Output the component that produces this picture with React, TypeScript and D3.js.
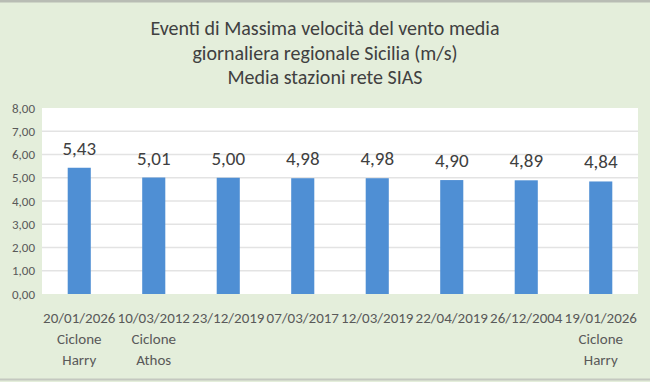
import React from "react";
import * as d3 from "d3";

const titleLines = [
  "Eventi di Massima velocità del vento media",
  "giornaliera regionale Sicilia (m/s)",
  "Media stazioni rete SIAS",
];
const categories = [
  ["20/01/2026", "Ciclone", "Harry"],
  ["10/03/2012", "Ciclone", "Athos"],
  ["23/12/2019"],
  ["07/03/2017"],
  ["12/03/2019"],
  ["22/04/2019"],
  ["26/12/2004"],
  ["19/01/2026", "Ciclone", "Harry"],
];
const values = [5.43, 5.01, 5.0, 4.98, 4.98, 4.9, 4.89, 4.84];
const yTicks = [0, 1, 2, 3, 4, 5, 6, 7, 8];

const W = 650;
const H = 382;
const FONT = "Carlito, Lato, 'Open Sans', sans-serif";
const fmt = (v: number) => v.toFixed(2).replace(".", ",");

export default function App() {
  const plot = { left: 42, right: 638, top: 108, bottom: 294 };
  const x = d3
    .scaleBand<number>()
    .domain(d3.range(categories.length))
    .range([plot.left, plot.right])
    .paddingInner(0.69)
    .paddingOuter(0.345);
  const y = d3.scaleLinear().domain([0, 8]).range([plot.bottom, plot.top]);

  return (
    <svg
      width={W}
      height={H}
      style={{ position: "absolute", left: 0, top: 0 }}
      fontFamily={FONT}
    >
      <rect x={0} y={0} width={W} height={H} fill="#e4eedb" />
      <line x1={0} x2={W} y1={1} y2={1} stroke="#b8bcb4" strokeWidth={3} />
      <line x1={0} x2={W} y1={379.5} y2={379.5} stroke="#c4c8c0" strokeWidth={2} />
      {titleLines.map((t, i) => (
        <text
          key={i}
          x={W / 2}
          y={35 + i * 24.5}
          textAnchor="middle"
          fontSize={20}
          fill="#404040"
        >
          {t}
        </text>
      ))}
      <rect
        x={plot.left}
        y={plot.top}
        width={plot.right - plot.left}
        height={plot.bottom - plot.top}
        fill="#ffffff"
      />
      {yTicks.map((t) => (
        <g key={t}>
          {t > 0 && t < 8 && (
            <line
              x1={plot.left}
              x2={plot.right}
              y1={y(t)}
              y2={y(t)}
              stroke="#e3e3e3"
              strokeWidth={1.5}
            />
          )}
          <text
            x={35}
            y={y(t) + 4.5}
            textAnchor="end"
            fontSize={13}
            fill="#595959"
          >
            {fmt(t)}
          </text>
        </g>
      ))}
      {values.map((v, i) => (
        <g key={i}>
          <rect
            x={x(i)!}
            y={y(v)}
            width={x.bandwidth()}
            height={y(0) - y(v)}
            fill="#4f8fd4"
          />
          <text
            x={x(i)! + x.bandwidth() / 2}
            y={y(v) - 13}
            textAnchor="middle"
            fontSize={19}
            fill="#404040"
          >
            {fmt(v)}
          </text>
        </g>
      ))}
      {categories.map((lines, i) =>
        lines.map((l, j) => (
          <text
            key={`${i}-${j}`}
            x={x(i)! + x.bandwidth() / 2}
            y={323 + j * 21}
            textAnchor="middle"
            fontSize={15}
            fill="#595959"
          >
            {l}
          </text>
        ))
      )}
    </svg>
  );
}
